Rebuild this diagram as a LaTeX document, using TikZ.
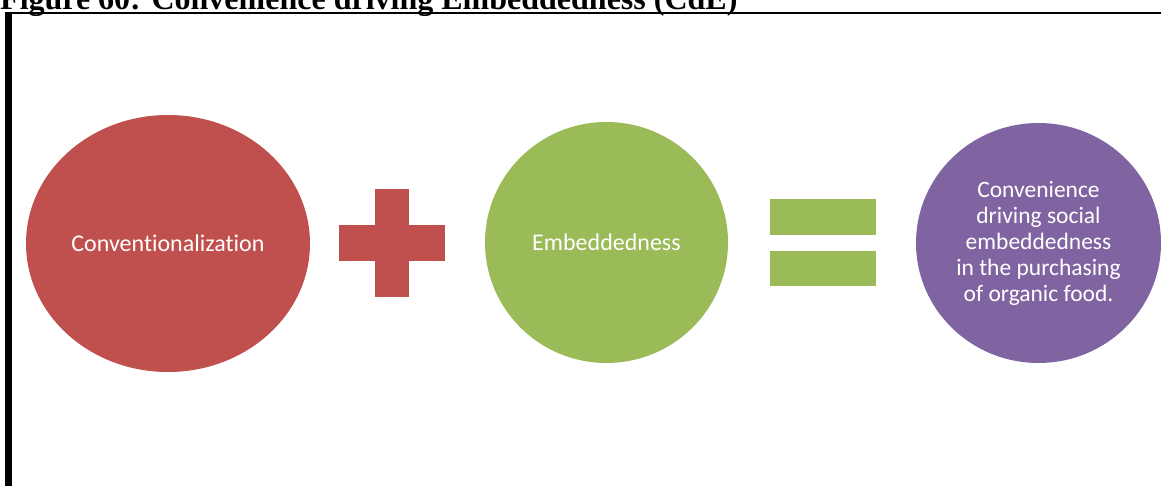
\documentclass[tikz,border=0pt]{standalone}
\usepackage{fontspec}
\setmainfont{Liberation Serif}
\newfontfamily\calibri[Ligatures=NoCommon]{Carlito}
\usetikzlibrary{shapes.geometric}

\definecolor{accRed}{HTML}{C0504D}
\definecolor{accGreen}{HTML}{9BBB59}
\definecolor{accPurple}{HTML}{8064A2}

\tikzset{
  bubble/.style={ellipse, inner sep=0pt, draw=none, text=white,
    font=\calibri\fontsize{24pt}{28pt}\selectfont},
  bar/.style={rectangle, inner sep=0pt, draw=none},
}

\begin{document}
\begin{tikzpicture}[x=1pt, y=-1pt]
  % page area
  \useasboundingbox (0,0) rectangle (1161,486);
  \clip (0,0) rectangle (1161,486);
  \fill[white] (0,0) rectangle (1161,486);

  % caption, cut at the top edge
  \node[anchor=base west, inner sep=0pt,
        font=\bfseries\fontsize{32pt}{36pt}\selectfont] (title) at (0,10)
    {Figure 60: Convenience driving Embeddedness (CdE)};

  % table frame
  \draw[line width=1.6pt, black] (5,13) -- (1161,13);
  \fill[black] (5,12) rectangle (12,486);

  % first term
  \node[bubble, fill=accRed, minimum width=284pt, minimum height=257pt]
    (conv) at (168,243.5) {Conventionalization};

  % plus sign
  \node[bar, fill=accRed, minimum width=106pt, minimum height=36pt]
    (plush) at (392,243) {};
  \node[bar, fill=accRed, minimum width=34pt, minimum height=108pt]
    (plusv) at (392,243) {};

  % second term
  \node[bubble, fill=accGreen, minimum width=243pt, minimum height=241pt]
    (embed) at (606.5,242.5) {Embeddedness};

  % equals sign
  \node[bar, fill=accGreen, minimum width=106pt, minimum height=36pt]
    (eqtop) at (823,217) {};
  \node[bar, fill=accGreen, minimum width=106pt, minimum height=35pt]
    (eqbot) at (823,268.5) {};

  % result
  \node[bubble, fill=accPurple, minimum width=245pt, minimum height=240pt,
        align=center, font=\calibri\fontsize{23.5pt}{26pt}\selectfont]
    (result) at (1038.5,243)
    {Convenience\\driving social\\embeddedness\\in the purchasing\\of organic food.};
\end{tikzpicture}
\end{document}
